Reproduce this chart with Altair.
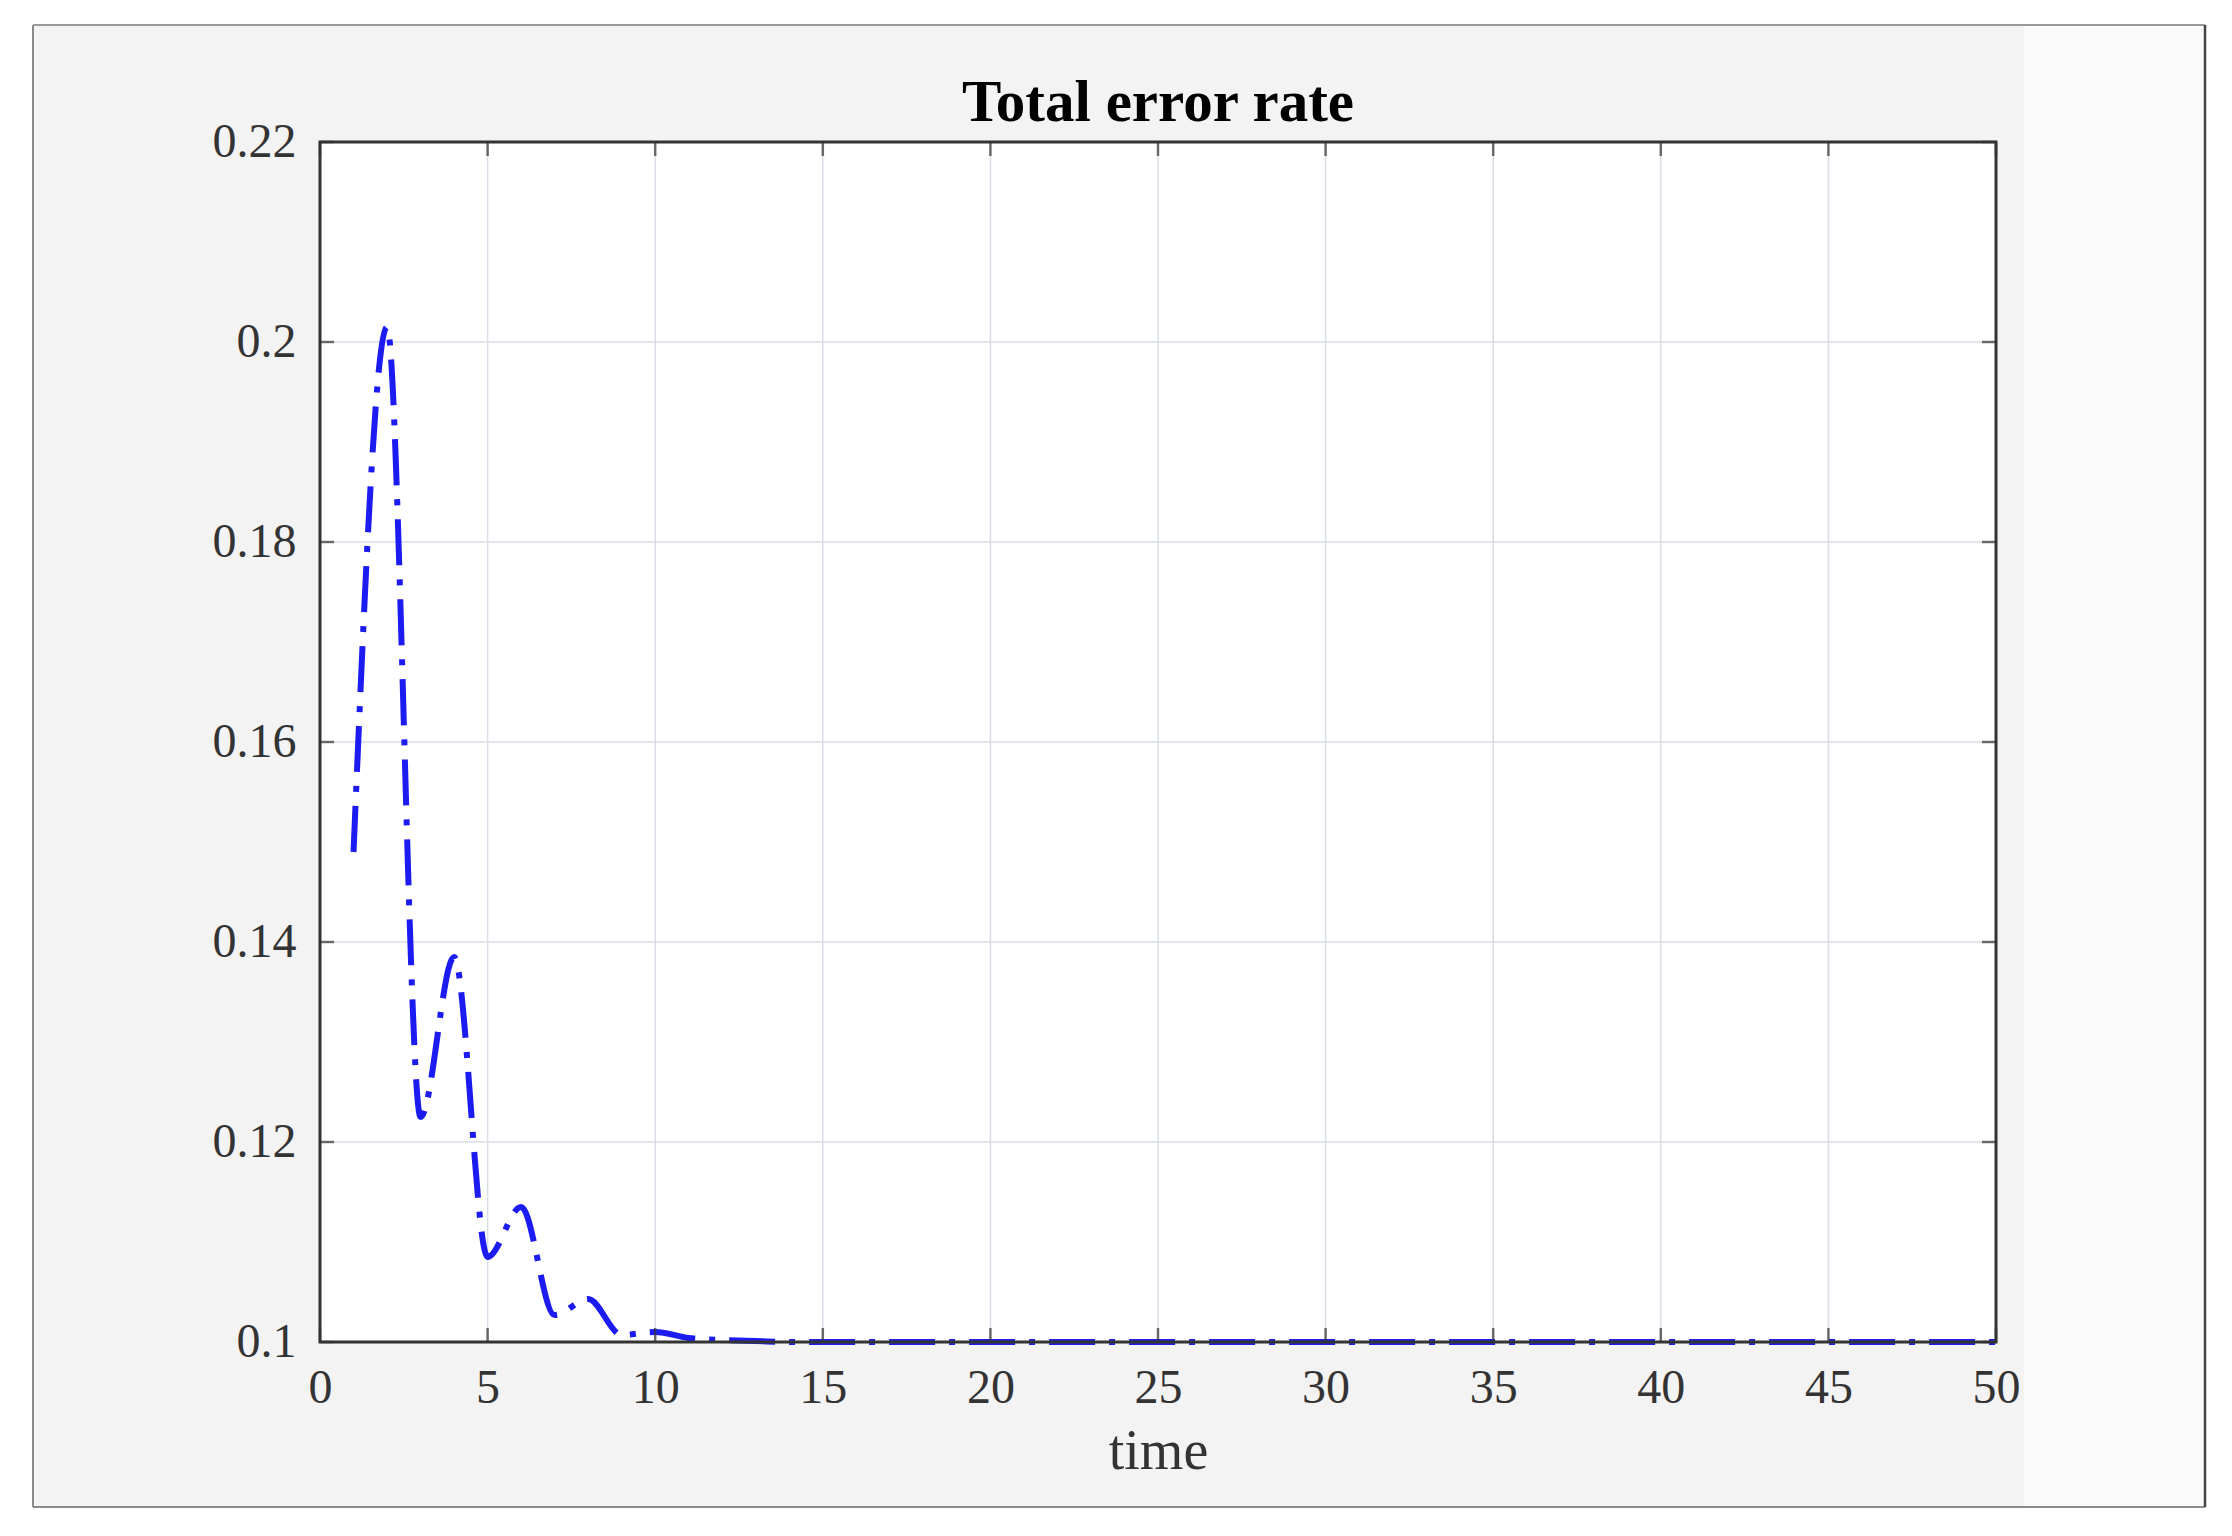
import altair as alt
import pandas as pd

# ---- data ----
time = list(range(1, 51))
error_rate = [
    0.1490, 0.2015, 0.1225, 0.1385, 0.1085, 0.1135, 0.1027, 0.1043, 0.1007, 0.1010,
    0.1004, 0.1002, 0.1001, 0.1000, 0.1000, 0.1000, 0.1000, 0.1000, 0.1000, 0.1000,
    0.1000, 0.1000, 0.1000, 0.1000, 0.1000, 0.1000, 0.1000, 0.1000, 0.1000, 0.1000,
    0.1000, 0.1000, 0.1000, 0.1000, 0.1000, 0.1000, 0.1000, 0.1000, 0.1000, 0.1000,
    0.1000, 0.1000, 0.1000, 0.1000, 0.1000, 0.1000, 0.1000, 0.1000, 0.1000, 0.1000,
]
x_ticks = [0, 5, 10, 15, 20, 25, 30, 35, 40, 45, 50]
y_ticks = [0.10, 0.12, 0.14, 0.16, 0.18, 0.20, 0.22]
x_domain = [0, 50]
y_domain = [0.10, 0.22]
title_text = ["Total error rate"]
x_title = "time"

df = pd.DataFrame({"time": time, "rate": error_rate})
xt = pd.DataFrame({"time": x_ticks})
yt = pd.DataFrame({"rate": y_ticks})
one = pd.DataFrame({"k": [0]})
tdf = pd.DataFrame({"t": title_text})

W, H = 1676, 1200
L, T = 320, 142           # page position of the plot area
FONT = "Liberation Serif"
AX = "#333333"

xs = alt.Scale(domain=x_domain, nice=False, zero=False)
ys = alt.Scale(domain=y_domain, nice=False, zero=False)

xa = alt.Axis(
    values=x_ticks, grid=False, ticks=False, tickSize=0, domain=False,
    labelFlush=False, labelFont=FONT, labelFontSize=48, labelColor=AX,
    labelPadding=22, titleFont=FONT, titleFontSize=56, titleFontWeight="normal",
    titleColor=AX, titlePadding=12, zindex=2,
)
ya = alt.Axis(
    values=y_ticks, grid=False, ticks=False, tickSize=0, domain=False,
    format=".2~f", labelFont=FONT, labelFontSize=48, labelColor=AX,
    labelPadding=24, zindex=2,
)


def X(field):
    return alt.X(field, type="quantitative", scale=xs, axis=xa, title=x_title)


def Y(field):
    return alt.Y(field, type="quantitative", scale=ys, axis=ya, title=None)


def XD(v):
    return alt.XDatum(v, type="quantitative", scale=xs, axis=xa, title=x_title)


def YD(v):
    return alt.YDatum(v, type="quantitative", scale=ys, axis=ya, title=None)


def px(v):
    return alt.value(v - L)


def py(v):
    return alt.value(v - T)


def rect(x1, x2, y1, y2, fill):
    return alt.Chart(one).mark_rect(fill=fill).encode(
        x=px(x1), x2=px(x2), y=py(y1), y2=py(y2))


def vline(x, y1, y2, color, w):
    return alt.Chart(one).mark_rule(color=color, strokeWidth=w).encode(
        x=px(x), y=py(y1), y2=py(y2))


def hline(y, x1, x2, color, w):
    return alt.Chart(one).mark_rule(color=color, strokeWidth=w).encode(
        y=py(y), x=px(x1), x2=px(x2))


# outer white margins (outside the figure frame) and the lighter right strip
deco = [
    rect(8, 33, 8, 1528, "white"),
    rect(8, 2224, 8, 25, "white"),
    rect(2206, 2224, 8, 1528, "white"),
    rect(8, 2224, 1508, 1528, "white"),
    rect(2024, 2204, 26, 1506, "#fafafa"),
    vline(33, 25, 1507, "#8a8a8a", 2),
    hline(25, 33, 2205, "#9a9a9a", 2),
    hline(1507, 33, 2205, "#8a8a8a", 2),
    vline(2205, 25, 1507, "#444444", 2.5),
]

plot_bg = alt.Chart(one).mark_rect(fill="white").encode(
    x=XD(x_domain[0]), x2=alt.X2Datum(x_domain[1]),
    y=YD(y_domain[0]), y2=alt.Y2Datum(y_domain[1]),
)

grid_x = alt.Chart(xt).mark_rule(color="#d9dde6", strokeWidth=1.5).encode(
    x=X("time"), y=YD(y_domain[0]), y2=alt.Y2Datum(y_domain[1]),
)
grid_y = alt.Chart(yt).mark_rule(color="#d9dde6", strokeWidth=1.5).encode(
    y=Y("rate"), x=XD(x_domain[0]), x2=alt.X2Datum(x_domain[1]),
)

line = alt.Chart(df).mark_line(
    color="#1c1cf2", strokeWidth=6, strokeDash=[46, 14, 6, 14], strokeCap="butt",
    interpolate="monotone",
).encode(x=X("time"), y=Y("rate"))

tick_kw = dict(color=AX, thickness=2.5, size=14)
tick_bottom = alt.Chart(xt).mark_tick(orient="vertical", yOffset=-7, **tick_kw).encode(
    x=X("time"), y=YD(y_domain[0]))
tick_top = alt.Chart(xt).mark_tick(orient="vertical", yOffset=7, **tick_kw).encode(
    x=X("time"), y=YD(y_domain[1]))
tick_left = alt.Chart(yt).mark_tick(orient="horizontal", xOffset=7, **tick_kw).encode(
    y=Y("rate"), x=XD(x_domain[0]))
tick_right = alt.Chart(yt).mark_tick(orient="horizontal", xOffset=-7, **tick_kw).encode(
    y=Y("rate"), x=XD(x_domain[1]))

border = alt.Chart(one).mark_rect(filled=False, stroke=AX, strokeWidth=3).encode(
    x=XD(x_domain[0]), x2=alt.X2Datum(x_domain[1]),
    y=YD(y_domain[0]), y2=alt.Y2Datum(y_domain[1]),
)

title = alt.Chart(tdf).mark_text(
    font=FONT, fontSize=59, fontWeight="bold", color="black",
    align="center", baseline="middle",
).encode(text="t:N", x=alt.value(W / 2), y=py(103))

chart = alt.layer(
    *deco, plot_bg, grid_x, grid_y, line,
    tick_bottom, tick_top, tick_left, tick_right, border, title,
).properties(
    width=W, height=H,
    autosize=alt.AutoSizeParams(type="none"),
    padding={"left": L - 8, "top": T - 8, "right": 2224 - L - W, "bottom": 1528 - T - H},
).configure_view(stroke=None).configure(background="#f3f3f3")

chart.save("out.html", embed_options={"renderer": "svg", "actions": False})
